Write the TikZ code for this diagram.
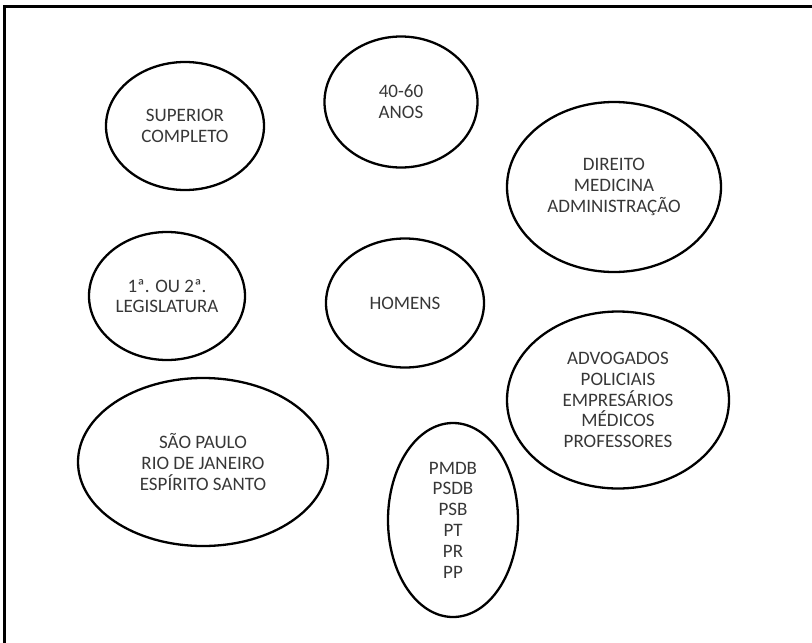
\documentclass[tikz,border=0pt]{standalone}
\usepackage{fontspec}
\setmainfont{Carlito}
\usepackage{tikz}
\usetikzlibrary{shapes.geometric, positioning}
\definecolor{inkgray}{RGB}{55, 55, 55}

\begin{document}
\begin{tikzpicture}[
  x=1pt, y=-1pt,
  trait/.style={ellipse, draw, line width=2.3pt, inner sep=0pt, align=center, text=inkgray, font=\fontsize{19}{20.8}\selectfont}
]
  \useasboundingbox (0,0) rectangle (812,643);
  \draw[line width=3pt] (4.5,643) -- (4.5,6) -- (812,6);

  \node[trait, minimum width=158, minimum height=128] (escolaridade) at (185,126) {SUPERIOR\\COMPLETO};
  \node[trait, minimum width=153, minimum height=131] (idade) at (401,102) {40-60\\ANOS};
  \node[trait, minimum width=214, minimum height=170] (formacao) at (614,187) {DIREITO\\MEDICINA\\ADMINISTRAÇÃO};
  \node[trait, minimum width=156, minimum height=128] (legislatura) at (167,296) {1ª. OU 2ª.\\LEGISLATURA};
  \node[trait, minimum width=158, minimum height=129] (sexo) at (405,303) {HOMENS};
  \node[trait, minimum width=222, minimum height=177] (profissao) at (618,400) {ADVOGADOS\\POLICIAIS\\EMPRESÁRIOS\\MÉDICOS\\PROFESSORES};
  \node[trait, minimum width=250, minimum height=168] (estados) at (203,462) {SÃO PAULO\\RIO DE JANEIRO\\ESPÍRITO SANTO};
  \node[trait, minimum width=130, minimum height=194] (partidos) at (453,520) {PMDB\\PSDB\\PSB\\PT\\PR\\PP};
\end{tikzpicture}
\end{document}
